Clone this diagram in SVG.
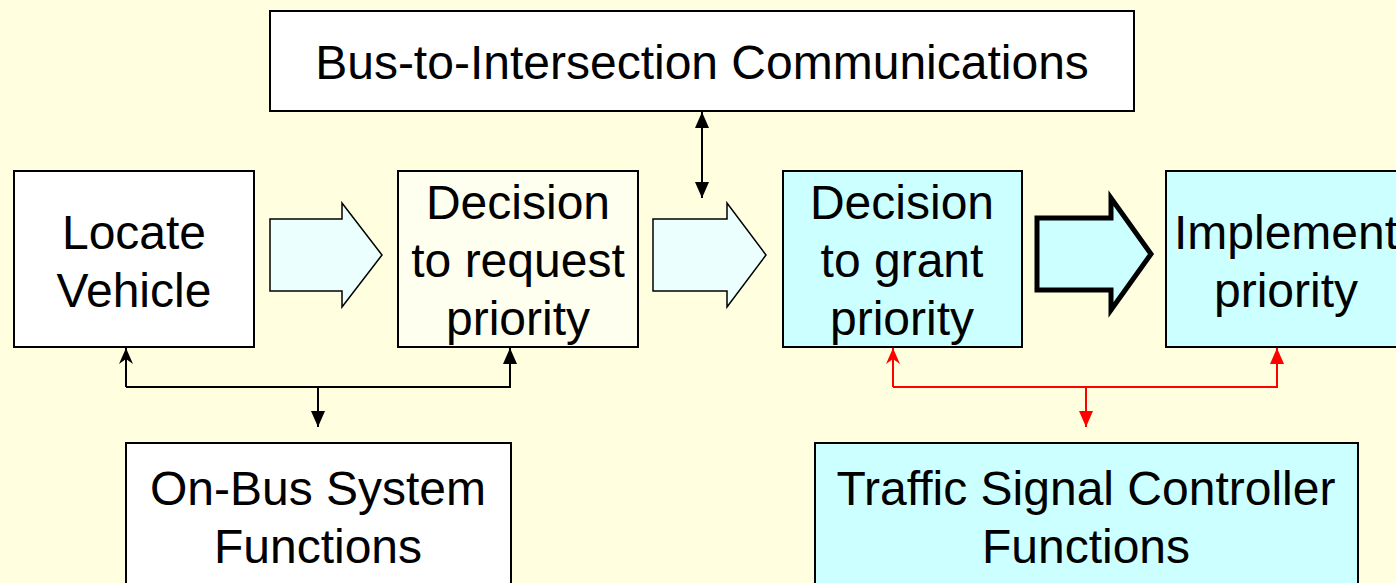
<svg xmlns="http://www.w3.org/2000/svg" width="1396" height="583" viewBox="0 0 1396 583">
<style>
.box{stroke:#000;stroke-width:2}
.white{fill:#FFFFFF}
.cream{fill:#FFFFF0}
.cyan{fill:#CCFFFF}
.lbl{font-family:"Liberation Sans",Arial,sans-serif;font-size:48px;fill:#000;text-anchor:middle}
.blk{fill:none;stroke:#000;stroke-width:2}
.red{fill:none;stroke:#FF0000;stroke-width:2}
.flow{fill:#EBFFFF;stroke:#000;stroke-width:1.5;stroke-linejoin:miter}
.bold{fill:#CCFFFF;stroke:#000;stroke-width:5;stroke-linejoin:miter}
</style>
<defs>
<marker id="triK" markerUnits="userSpaceOnUse" markerWidth="16" markerHeight="14" refX="16" refY="7" orient="auto-start-reverse" viewBox="0 0 16 14"><path d="M0,0 L16,7 L0,14 z" fill="#000"/></marker>
<marker id="stealthK" markerUnits="userSpaceOnUse" markerWidth="16" markerHeight="14" refX="16" refY="7" orient="auto" viewBox="0 0 16 14"><path d="M0,0 L16,7 L0,14 L5,7 z" fill="#000"/></marker>
<marker id="triR" markerUnits="userSpaceOnUse" markerWidth="16" markerHeight="14" refX="16" refY="7" orient="auto" viewBox="0 0 16 14"><path d="M0,0 L16,7 L0,14 z" fill="#FF0000"/></marker>
<marker id="stealthR" markerUnits="userSpaceOnUse" markerWidth="16" markerHeight="14" refX="16" refY="7" orient="auto" viewBox="0 0 16 14"><path d="M0,0 L16,7 L0,14 L5,7 z" fill="#FF0000"/></marker>
</defs>
<rect x="0" y="0" width="1396" height="583" fill="#FFFFE0"/>

<g id="connectors">
<path class="blk" d="M702,112 L702,198" marker-start="url(#triK)" marker-end="url(#triK)"/>
<path class="blk" d="M126,387 L126,348" marker-end="url(#stealthK)"/>
<path class="blk" d="M126,387 L510,387 L510,348" marker-end="url(#triK)"/>
<path class="blk" d="M318,387 L318,427" marker-end="url(#triK)"/>
<path class="red" d="M893,387 L893,348" marker-end="url(#stealthR)"/>
<path class="red" d="M893,387 L1277,387 L1277,348" marker-end="url(#triR)"/>
<path class="red" d="M1086,387 L1086,427" marker-end="url(#triR)"/>
<polygon class="flow" points="270,219 342,219 342,203 382,255 342,307 342,291 270,291"/>
<polygon class="flow" points="653,219 727,219 727,203 766,255 727,307 727,291 653,291"/>
<polygon class="bold" points="1037,218 1111,218 1111,198 1151,254 1111,310 1111,290 1037,290"/>
</g>

<g id="comms">
<rect class="box white" x="270" y="11" width="864" height="100"/>
<text class="lbl" x="702" y="79">Bus-to-Intersection Communications</text>
</g>

<g id="locate">
<rect class="box white" x="14" y="171" width="240" height="176"/>
<text class="lbl" x="134" y="249">Locate</text>
<text class="lbl" x="134" y="307">Vehicle</text>
</g>

<g id="request">
<rect class="box cream" x="398" y="171" width="240" height="176"/>
<text class="lbl" x="518" y="219">Decision</text>
<text class="lbl" x="518" y="277">to request</text>
<text class="lbl" x="518" y="335">priority</text>
</g>

<g id="grant">
<rect class="box cyan" x="783" y="171" width="239" height="176"/>
<text class="lbl" x="902" y="219">Decision</text>
<text class="lbl" x="902" y="277">to grant</text>
<text class="lbl" x="902" y="335">priority</text>
</g>

<g id="implement">
<rect class="box cyan" x="1166" y="171" width="240" height="176"/>
<text class="lbl" x="1286" y="249">Implement</text>
<text class="lbl" x="1286" y="307">priority</text>
</g>

<g id="onbus">
<rect class="box white" x="126" y="443" width="385" height="150"/>
<text class="lbl" x="318" y="505">On-Bus System</text>
<text class="lbl" x="318" y="563">Functions</text>
</g>

<g id="tsc">
<rect class="box cyan" x="815" y="443" width="543" height="150"/>
<text class="lbl" x="1086" y="505">Traffic Signal Controller</text>
<text class="lbl" x="1086" y="563">Functions</text>
</g>
</svg>
